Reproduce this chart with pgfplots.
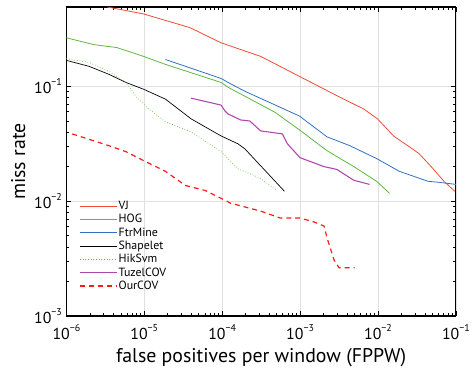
\documentclass[border=0pt]{standalone}
\usepackage{fontspec}
\setmainfont{PT Sans}
\usepackage{pgfplots}
\pgfplotsset{compat=1.18}
\definecolor{cvj}{HTML}{F04A35}
\definecolor{chog}{HTML}{5DB83A}
\definecolor{cftr}{HTML}{2F6FC4}
\definecolor{chik}{HTML}{66C43A}
\definecolor{ctuz}{HTML}{B048B0}
\definecolor{cour}{HTML}{FF1A1A}
\newcommand{\tl}[1]{10\raisebox{0.5em}{\fontsize{10}{11}\selectfont #1}}
\begin{document}
\begin{tikzpicture}
\begin{axis}[
  scale only axis,
  width=393pt, height=312pt,
  xmode=log, ymode=log,
  xmin=1e-6, xmax=0.1, ymin=1e-3, ymax=0.49,
  xtick={1e-6,1e-5,1e-4,1e-3,1e-2,1e-1},
  xticklabels={\tl{−6},\tl{−5},\tl{−4},\tl{−3},\tl{−2},\tl{−1}},
  ytick={1e-3,1e-2,1e-1},
  yticklabels={\tl{−3},\tl{−2},\tl{−1}},
  ticklabel style={font=\fontsize{16}{18}\selectfont},
  xticklabel style={yshift=-5pt},
  yticklabel style={xshift=-1pt},
  grid=major,
  major grid style={draw=black!12, line width=0.6pt},
  axis line style={line width=1.3pt},
  tick style={black, line width=0.6pt},
  major tick length=5pt, minor tick length=3pt,
  tick align=inside,
  xlabel={false positives per window (FPPW)},
  ylabel={miss rate},
  xlabel style={font=\fontsize{20}{22}\selectfont, yshift=-2pt},
  ylabel style={font=\fontsize{20}{22}\selectfont, yshift=2pt},
  legend style={draw=none, fill=none, at={(0.025,0.385)}, anchor=north west,
    font=\fontsize{12}{13}\selectfont, row sep=-0.6pt,
    nodes={inner xsep=1.5pt}},
  legend cell align=left,
  every axis plot/.append style={legend image code/.code={\draw[#1] (0pt,0pt) -- (37pt,0pt);}},
]
\addplot[cvj, line width=0.8pt] coordinates {
(3.33e-6,0.49) (9.8e-6,0.426) (3.89e-5,0.323) (9.66e-5,0.239) (3.12e-4,0.182)
(9.8e-4,0.122) (3.06e-3,0.082) (6.56e-3,0.0634) (9.9e-3,0.052) (0.0158,0.037)
(0.0252,0.0298) (0.0338,0.0259) (0.0509,0.0192) (0.0703,0.0149) (0.097,0.0122)};
\addlegendentry{VJ}
\addplot[chog, line width=0.8pt] coordinates {
(1e-6,0.264) (2.27e-6,0.230) (4.46e-6,0.217) (9.8e-6,0.182) (1.87e-5,0.155)
(9.66e-5,0.108) (1.19e-4,0.098) (4.7e-4,0.0597) (9.8e-4,0.0418) (2.22e-3,0.0275)
(4.9e-3,0.0200) (9.6e-3,0.0149) (0.0141,0.0117)};
\addlegendentry{HOG}
\addplot[cftr, line width=0.8pt] coordinates {
(1.87e-5,0.171) (9.66e-5,0.117) (1.19e-4,0.108) (1.95e-4,0.0906) (9.8e-4,0.0551)
(2.22e-3,0.0363) (4.36e-3,0.0304) (9.6e-3,0.0235) (0.0188,0.0182) (0.044,0.0149)
(0.0608,0.0146) (0.1,0.0140)};
\addlegendentry{FtrMine}
\addplot[black, line width=0.7pt] coordinates {
(1e-6,0.168) (1.96e-6,0.149) (3.52e-6,0.127) (5.8e-6,0.108) (9.8e-6,0.0942)
(1.87e-5,0.0773) (4.0e-5,0.052) (9.66e-5,0.037) (1.59e-4,0.0316) (1.95e-4,0.0286)
(6.3e-4,0.0122)};
\addlegendentry{Shapelet}
\addplot[chik, line width=0.7pt, dotted] coordinates {
(1e-6,0.174) (1.96e-6,0.161) (3.52e-6,0.135) (5.8e-6,0.108) (7.8e-6,0.082)
(1.07e-5,0.0659) (1.87e-5,0.049) (4.0e-5,0.0401) (9.66e-5,0.027) (1.59e-4,0.0192)
(3.12e-4,0.0158) (4.97e-4,0.0124)};
\addlegendentry{HikSvm}
\addplot[ctuz, line width=1.1pt] coordinates {
(4.0e-5,0.0788) (9.66e-5,0.0686) (1.09e-4,0.0608) (1.19e-4,0.0574) (1.73e-4,0.0509)
(2.26e-4,0.0499) (3.12e-4,0.0409) (5.94e-4,0.0385) (6.87e-4,0.0316) (1.0e-3,0.0239)
(2.03e-3,0.020) (2.97e-3,0.0189) (4.9e-3,0.0152) (7.8e-3,0.014)};
\addlegendentry{TuzelCOV}
\addplot[cour, line width=1.2pt, dash pattern=on 5pt off 4pt] coordinates {
(1.19e-6,0.0385) (3.52e-6,0.0304) (5.8e-6,0.027) (1.04e-5,0.0221) (1.87e-5,0.0182)
(3.37e-5,0.0137) (6.04e-5,0.0124) (9.66e-5,0.0106) (1.29e-4,0.0096) (3.12e-4,0.0082)
(5.6e-4,0.00713) (1.0e-3,0.00713) (1.52e-3,0.00659) (2.03e-3,0.00608) (2.22e-3,0.0048)
(2.72e-3,0.0031) (3.16e-3,0.00264) (5.03e-3,0.00264)};
\addlegendentry{OurCOV}
\end{axis}
\path ([shift={(-67pt,-53pt)}]current axis.south west) rectangle ([shift={(13pt,7pt)}]current axis.north east);
\end{tikzpicture}
\end{document}
